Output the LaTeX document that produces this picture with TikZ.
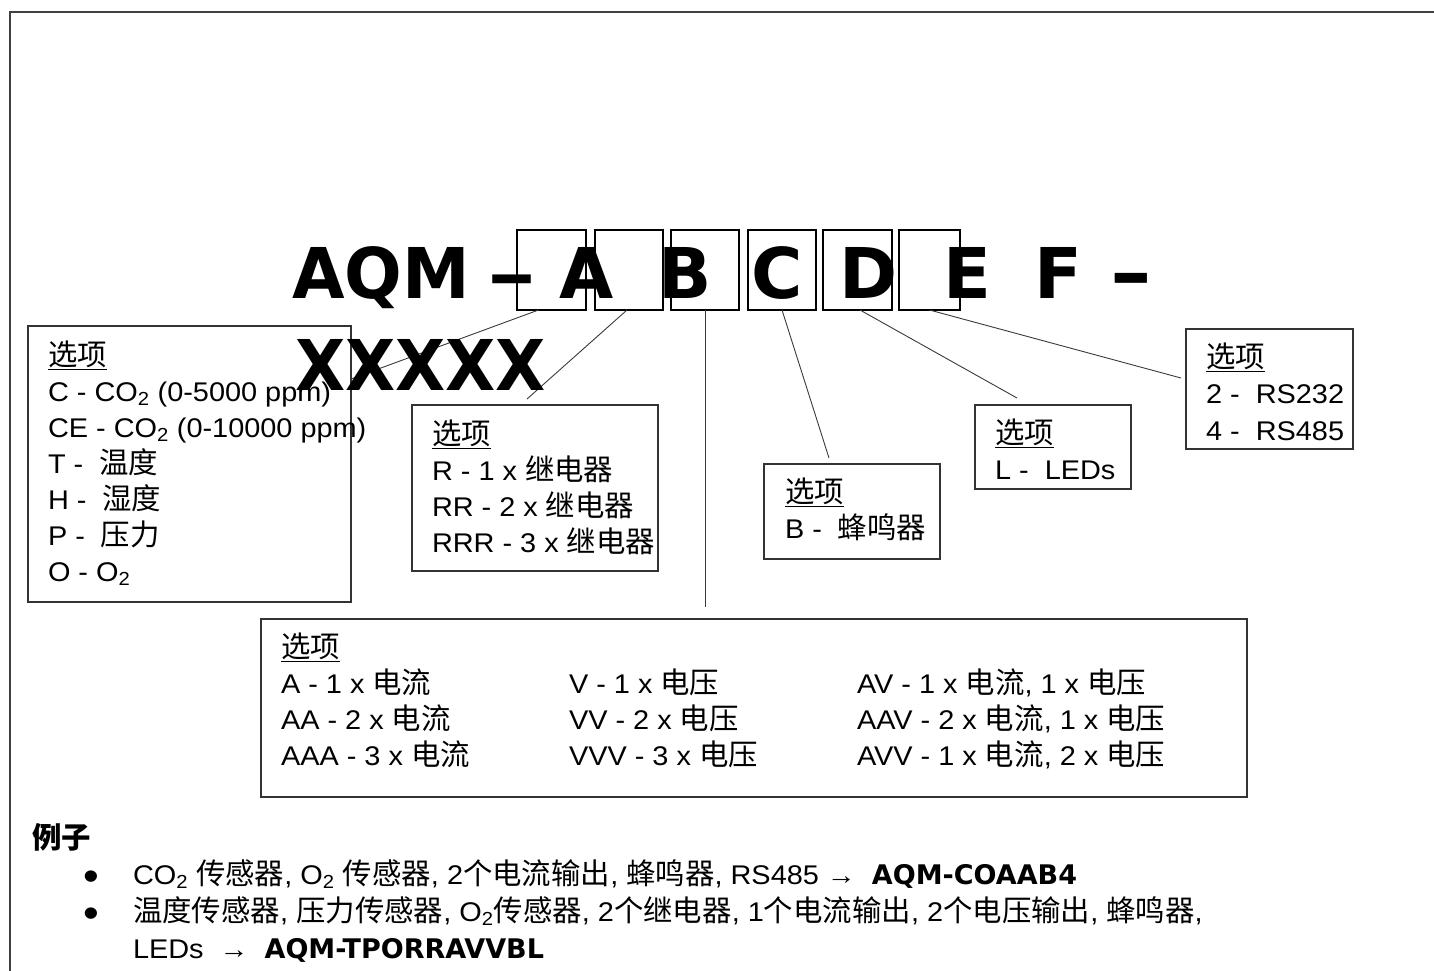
\documentclass[tikz,border=0pt]{standalone}
\usepackage{fontspec}
\usepackage{graphicx}
\setmainfont[FakeStretch=1.07]{Liberation Sans}
\newfontfamily\cjk[Scale=1.09]{Noto Sans CJK SC}
\newfontfamily\bigf{DejaVu Sans}
\newcommand\zh[1]{{\cjk #1}}
\newcommand\hd{\underline{\zh{选项}}}
\newcommand\subtwo{\textsubscript{2}}
\newcommand\codeb[1]{{\fontsize{27}{31}\selectfont\bigf\bfseries #1}}
\definecolor{boxgray}{HTML}{333333}
\definecolor{linegray}{HTML}{3A3A3A}
\definecolor{framegray}{HTML}{404040}
\tikzset{
 optbox/.style={draw=boxgray, line width=1.4pt, inner sep=0pt, outer sep=0pt},
 letbox/.style={draw=black, line width=2pt, minimum height=80pt, inner sep=0pt, outer sep=0pt},
 txt/.style={anchor=base west, inner sep=0pt, outer sep=0pt, font=\fontsize{27}{31}\selectfont},
 bullet/.style={anchor=base, inner sep=0pt, text height=20pt, text depth=0pt, font=\fontsize{42}{42}\selectfont},
 bigtxt/.style={anchor=base, inner sep=0pt, font=\fontsize{70}{84}\selectfont\bigf\bfseries},
 conn/.style={draw=linegray, line width=0.9pt},
 frame/.style={draw=framegray, line width=1.8pt},
}
\begin{document}
\begin{tikzpicture}[x=1pt,y=-1pt]
\useasboundingbox (0,0) rectangle (1434,970);
% outer frame
\coordinate (fr1) at (10,980);
\coordinate (fr2) at (10,12);
\coordinate (fr3) at (1445,12);
\draw[frame] (fr1) -- (fr2) -- (fr3);

% option boxes
\node[optbox, minimum width=323pt, minimum height=276pt] (bx1) at (189.5,464) {};
\node[optbox, minimum width=246pt, minimum height=166pt] (bx2) at (535,488) {};
\node[optbox, minimum width=176pt, minimum height=95pt] (bx3) at (852,511.5) {};
\node[optbox, minimum width=156pt, minimum height=84pt] (bx4) at (1053,447) {};
\node[optbox, minimum width=167pt, minimum height=120pt] (bx5) at (1269.5,389) {};
\node[optbox, minimum width=986pt, minimum height=178pt] (bx6) at (754,708) {};

% letter boxes
\node[letbox, minimum width=69pt] (lb1) at (551.5,270) {};
\node[letbox, minimum width=68pt] (lb2) at (629,270) {};
\node[letbox, minimum width=68pt] (lb3) at (705,270) {};
\node[letbox, minimum width=68pt] (lb4) at (782,270) {};
\node[letbox, minimum width=69pt] (lb5) at (857.5,270) {};
\node[letbox, minimum width=61pt] (lb6) at (929.5,270) {};

% connector ends
\coordinate (e1) at (351,379);
\coordinate (e2) at (527,399);
\coordinate (e3) at (705,607);
\coordinate (e4) at (829,458);
\coordinate (e5) at (1017,398);
\coordinate (e6) at (1181,378);
\draw[conn] ([xshift=-13pt]lb1.south) -- (e1);
\draw[conn] ([xshift=-2pt]lb2.south) -- (e2);
\draw[conn] (lb3.south) -- (e3);
\draw[conn] (lb4.south) -- (e4);
\draw[conn] ([xshift=2.5pt]lb5.south) -- (e5);
\draw[conn] (lb6.south) -- (e6);

% big title
\node[bigtxt, anchor=base west] (tAQM) at (292,298) {\scalebox{0.97}[1]{AQM}};
\node[bigtxt] (tdash) at (512,298) {\scalebox{1.4}[1]{–}};
\node[bigtxt] (tA) at (587,298) {A};
\node[bigtxt] (tB) at (685,298) {B};
\node[bigtxt] (tC) at (777,298) {C};
\node[bigtxt] (tD) at (869,298) {D};
\node[bigtxt] (tE) at (967,298) {E};
\node[bigtxt] (tF) at (1058,298) {F};
\node[bigtxt] (thy) at (1131,298) {\scalebox{1.5}[1]{-}};
\node[bigtxt, anchor=base west] (tX) at (295,390) {\scalebox{0.93}[1]{XXXXX}};

% left box
\node[txt] (l0) at (48,365) {\hd};
\node[txt] (l1) at (48,401) {C - CO\subtwo\ (0-5000 ppm)};
\node[txt] (l2) at (48,437) {CE - CO\subtwo\ (0-10000 ppm)};
\node[txt] (l3) at (48,473) {T -\ \ \zh{温度}};
\node[txt] (l4) at (48,509) {H -\ \ \zh{湿度}};
\node[txt] (l5) at (48,545) {P -\ \ \zh{压力}};
\node[txt] (l6) at (48,581) {O - O\subtwo};

% relay box
\node[txt] (r0) at (432,444) {\hd};
\node[txt] (r1) at (432,480) {R - 1 x \zh{继电器}};
\node[txt] (r2) at (432,516) {RR - 2 x \zh{继电器}};
\node[txt] (r3) at (432,552) {RRR - 3 x \zh{继电器}};

% buzzer box
\node[txt] (b0) at (785,502) {\hd};
\node[txt] (b1) at (785,538) {B -\ \ \zh{蜂鸣器}};

% LED box
\node[txt] (d0) at (995,443) {\hd};
\node[txt] (d1) at (995,479) {L -\ \ LEDs};

% comm box
\node[txt] (s0) at (1206,367) {\hd};
\node[txt] (s1) at (1206,403) {2 -\ \ RS232};
\node[txt] (s2) at (1206,440) {4 -\ \ RS485};

% output box
\node[txt] (o0) at (281,657) {\hd};
\node[txt] (o11) at (281,693) {A - 1 x \zh{电流}};
\node[txt] (o12) at (281,729) {AA - 2 x \zh{电流}};
\node[txt] (o13) at (281,765) {AAA - 3 x \zh{电流}};
\node[txt] (o21) at (569,693) {V - 1 x \zh{电压}};
\node[txt] (o22) at (569,729) {VV - 2 x \zh{电压}};
\node[txt] (o23) at (569,765) {VVV - 3 x \zh{电压}};
\node[txt] (o31) at (857,693) {AV - 1 x \zh{电流}, 1 x \zh{电压}};
\node[txt] (o32) at (857,729) {AAV - 2 x \zh{电流}, 1 x \zh{电压}};
\node[txt] (o33) at (857,765) {AVV - 1 x \zh{电流}, 2 x \zh{电压}};

% examples
\node[txt] (ex0) at (32,848) {\zh{\bfseries 例子}};
\node[bullet] (bu1) at (91,890) {•};
\node[bullet] (bu2) at (91,927) {•};
\node[txt] (ex1) at (133,884) {CO\subtwo\ \zh{传感器}, O\subtwo\ \zh{传感器}, 2\zh{个电流输出}, \zh{蜂鸣器}, RS485 →\ \ \codeb{AQM-COAAB4}};
\node[txt] (ex2) at (133,921) {\zh{温度传感器}, \zh{压力传感器}, O\subtwo\zh{传感器}, 2\zh{个继电器}, 1\zh{个电流输出}, 2\zh{个电压输出}, \zh{蜂鸣器},};
\node[txt] (ex3) at (133,958) {LEDs\ \ →\ \ \codeb{AQM-TPORRAVVBL}};
\end{tikzpicture}
\end{document}
